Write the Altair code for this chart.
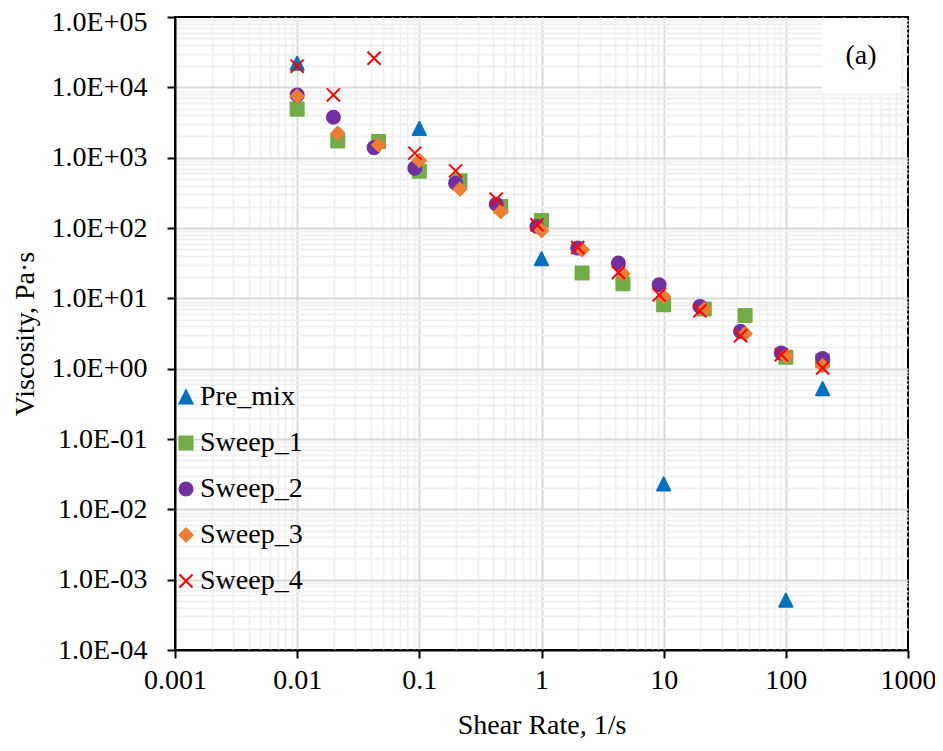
import altair as alt
import pandas as pd

# ---------------- data ----------------
series = ["Pre_mix", "Sweep_1", "Sweep_2", "Sweep_3", "Sweep_4"]
colors = ["#0070C0", "#70AD47", "#7030A0", "#ED7D31", "#FF0000"]
shapes = ["M0,-1L1,1L-1,1Z", "square", "circle", "diamond", "M-1,-1L1,1M1,-1L-1,1"]

premix_x = [0.01, 0.1, 1, 10, 100, 200]
premix_y = [2.2e4, 2.6e3, 36.5, 0.023, 5.1e-4, 0.52]

sweep_a_x = [0.01, 0.0215, 0.0464, 0.1, 0.215, 0.464, 1, 2.15, 4.64, 10, 21.5, 46.4, 100, 200]
sweep_b_x = [0.01, 0.0198, 0.0426, 0.0918, 0.198, 0.426, 0.918, 1.98, 4.26, 9.18, 19.8, 42.6, 91.8, 200]

sweep1_y = [4.9e3, 1.73e3, 1.7e3, 640, 470, 202, 128, 22.9, 16.1, 8.1, 7.05, 5.7, 1.45, 1.3]
sweep2_y = [7.8e3, 3.76e3, 1.39e3, 710, 434, 218, 105, 51.8, 31.7, 15.6, 7.67, 3.39, 1.67, 1.39]
sweep3_y = [7.5e3, 2.23e3, 1.52e3, 910, 357, 172, 92, 49, 22.3, 10.6, 7.0, 3.14, 1.5, 1.1]
sweep4_y = [2.0e4, 7.8e3, 2.59e4, 1.16e3, 649, 257, 111, 52.9, 23.3, 11.2, 6.67, 2.94, 1.58, 1.02]

x_exponents = [-3, -2, -1, 0, 1, 2]
y_exponents = [-4, -3, -2, -1, 0, 1, 2, 3, 4]
minor_mult = [1, 2, 3, 4, 5, 6, 7, 8, 9]

x_ticks = [round(m * 10.0 ** e, 10) for e in x_exponents for m in minor_mult] + [1000.0]
y_ticks = [round(m * 10.0 ** e, 12) for e in y_exponents for m in minor_mult] + [1e5]

rows = []
for xs, ys, name in [
    (premix_x, premix_y, "Pre_mix"),
    (sweep_a_x, sweep1_y, "Sweep_1"),
    (sweep_b_x, sweep2_y, "Sweep_2"),
    (sweep_a_x, sweep3_y, "Sweep_3"),
    (sweep_b_x, sweep4_y, "Sweep_4"),
]:
    for xv, yv in zip(xs, ys):
        rows.append({"shear": xv, "visc": yv, "series": name})
df = pd.DataFrame(rows)

FONT = "Liberation Serif"
LOGV = "(log(datum.value)/LN10)"
DEC = f"abs({LOGV} - round({LOGV})) < 0.001"


def grid_color(lo, hi):
    end = f"datum.value <= {lo} || datum.value >= {hi}"
    return {
        "condition": [
            {"test": end, "value": "transparent"},
            {"test": DEC, "value": "#d9d9d9"},
        ],
        "value": "#f0f0f0",
    }


tick_color = {"condition": {"test": DEC, "value": "black"}, "value": "transparent"}

common_axis = dict(
    grid=True,
    gridWidth=2,
    tickColor=tick_color,
    tickSize=8,
    tickWidth=2,
    domainColor="black",
    domainWidth=2,
    labelFont=FONT,
    labelFontSize=28,
    labelColor="black",
    labelOverlap=False,
    labelFlush=False,
    labelBound=False,
    titleFont=FONT,
    titleFontSize=28,
    titleFontWeight="normal",
    titleColor="black",
)

x_axis = alt.Axis(
    values=x_ticks,
    title="Shear Rate, 1/s",
    labelExpr=f"{DEC} ? format(datum.value, '~g') : ''",
    gridColor=grid_color(0.0011, 999),
    labelPadding=8,
    titlePadding=17,
    **common_axis,
)

y_axis = alt.Axis(
    values=y_ticks,
    title="Viscosity, Pa·s",
    labelExpr=(
        f"{DEC} ? '1.0E' + (round({LOGV}) < 0 ? '-' : '+') + '0' + abs(round({LOGV})) : ''"
    ),
    labelOffset={"condition": {"test": "datum.value >= 99999", "value": 5}, "value": 0},
    gridColor=grid_color(0.00011, 99999),
    labelPadding=20,
    titlePadding=12,
    **common_axis,
)

legend = alt.Legend(
    title=None,
    orient="none",
    legendX=-3,
    legendY=366,
    padding=0,
    labelFont=FONT,
    labelFontSize=28,
    labelColor="black",
    labelOffset=0,
    rowPadding=18,
    symbolSize=170,
    symbolStrokeWidth=2,
)

points = alt.Chart(df).mark_point(
    filled=True, size=170, strokeWidth=2, opacity=1, strokeJoin="round"
).encode(
    x=alt.X("shear:Q", scale=alt.Scale(type="log", domain=[0.001, 1000], nice=False), axis=x_axis),
    y=alt.Y("visc:Q", scale=alt.Scale(type="log", domain=[1e-4, 1e5], nice=False), axis=y_axis),
    color=alt.Color("series:N", scale=alt.Scale(domain=series, range=colors), legend=legend),
    stroke=alt.Stroke("series:N", scale=alt.Scale(domain=series, range=colors), legend=legend),
    shape=alt.Shape("series:N", scale=alt.Scale(domain=series, range=shapes), legend=legend),
)

label_df = pd.DataFrame({"label": ["(a)"]})
box = alt.Chart(label_df).mark_rect(color="white").encode(
    x=alt.value(647), x2=alt.value(725), y=alt.value(1), y2=alt.value(76)
)
text = alt.Chart(label_df).mark_text(
    font=FONT, fontSize=28, color="black", align="center", baseline="middle"
).encode(x=alt.value(686), y=alt.value(39), text="label:N")

chart = (
    alt.layer(points, box, text)
    .properties(
        width=733,
        height=633,
        autosize=alt.AutoSizeParams(type="none"),
        padding={"left": 167, "top": 9, "right": 27, "bottom": 90},
    )
    .configure_view(stroke="black", strokeWidth=2)
)

chart.save("out.html", embed_options={"renderer": "svg", "actions": False})
